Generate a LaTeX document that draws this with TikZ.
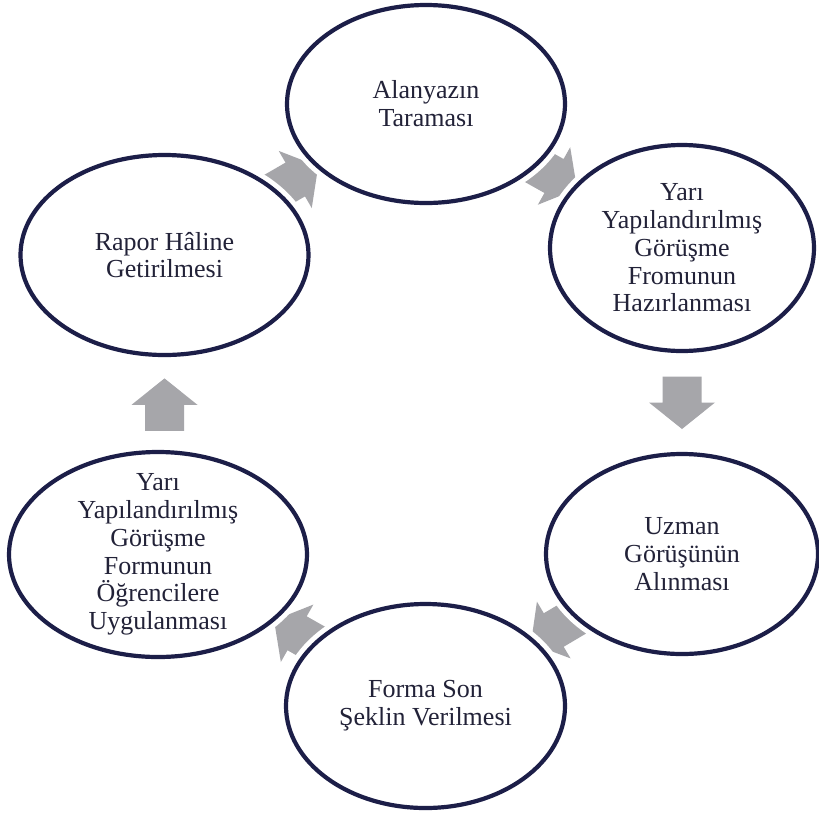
\documentclass[tikz,border=0pt]{standalone}
\usepackage{fontspec}
\setmainfont{Liberation Serif}
\usetikzlibrary{shapes.geometric,calc}
\pgfdeclarelayer{bg}
\pgfsetlayers{bg,main}
\definecolor{navy}{RGB}{28,30,72}
\definecolor{arrowgray}{RGB}{166,166,170}
\definecolor{txtc}{RGB}{34,34,56}
\begin{document}
\begin{tikzpicture}[x=1pt,y=-1pt,
  cyc/.style={ellipse, draw=navy, line width=4.2pt, fill=white, inner sep=-40pt,
    preaction={draw=white, line width=14pt}, text=txtc, align=center,
    font=\fontsize{26pt}{27.8pt}\selectfont},
  pics/blockarrow/.style={code={\fill[arrowgray] (-26pt,-19.5pt) -- (0pt,-19.5pt) -- (0pt,-33pt)
      -- (26.5pt,0pt) -- (0pt,33pt) -- (0pt,19.5pt) -- (-26pt,19.5pt) -- cycle;}},
  flow/.style={sloped, allow upside down}
]
\useasboundingbox (0,0) rectangle (819,812);

\node[cyc, minimum width=278pt, minimum height=198pt] (e1) at (426,104) {Alanyazın\\Taraması};
\node[cyc, minimum width=264pt, minimum height=206pt] (e2) at (682,248) {Yarı\\Yapılandırılmış\\Görüşme\\Fromunun\\Hazırlanması};
\node[cyc, minimum width=272pt, minimum height=200pt] (e3) at (682,554) {Uzman\\Görüşünün\\Alınması};
\node[cyc, minimum width=279pt, minimum height=204pt] (e4) at (425.5,706) {Forma Son\\Şeklin Verilmesi};
\node[cyc, minimum width=298pt, minimum height=205pt] (e5) at (158,554.5) {Yarı\\Yapılandırılmış\\Görüşme\\Formunun\\Öğrencilere\\Uygulanması};
\node[cyc, minimum width=288pt, minimum height=200pt] (e6) at (164.5,255) {Rapor Hâline\\Getirilmesi};

\begin{pgfonlayer}{bg}
  \fill[white] (0,0) rectangle (819,812);
  \path (e1.center) -- (e2.center) pic[pos=0.5, flow] {blockarrow};
  \path (e2.south) -- (e3.north -| e2.south) pic[pos=0.5, flow] {blockarrow};
  \path (e3.center) -- (e4.center) pic[pos=0.5, flow] {blockarrow};
  \path (e4.center) -- (e5.center) pic[pos=0.48, flow] {blockarrow};
  \path (e5.north -| e6.south) -- (e6.south) pic[pos=0.485, flow] {blockarrow};
  \path (e6.center) -- (e1.center) pic[pos=0.5, flow] {blockarrow};
\end{pgfonlayer}
\end{tikzpicture}
\end{document}
